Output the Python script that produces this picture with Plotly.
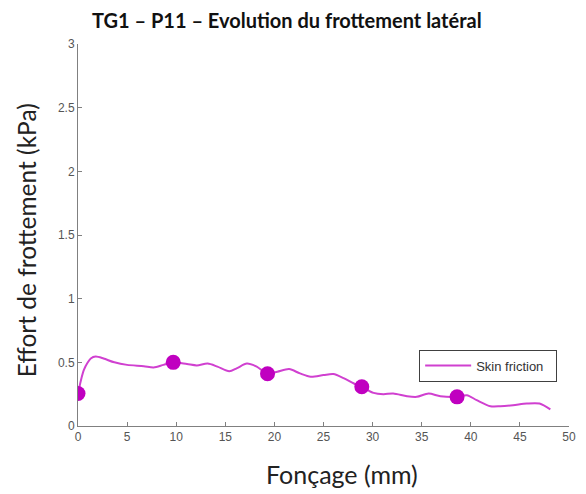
import plotly.graph_objects as go

# Skin friction curve (depth in mm, friction in kPa)
depth = [0.0, 0.3, 0.6, 1.0, 1.3, 1.8, 2.6, 3.7, 5.0, 6.7, 7.7, 8.7, 9.7,
         11.1, 12.1, 13.2, 14.2, 15.4, 16.2, 17.2, 18.2, 19.3,
         20.3, 21.5, 22.6, 23.7, 25.0, 26.0, 27.1, 28.1, 28.9,
         30.1, 31.1, 32.1, 33.5, 34.5, 35.7, 36.9, 38.6,
         39.6, 40.6, 42.0, 43.0, 44.3, 45.7, 47.0, 48.1]
friction = [0.255, 0.36, 0.44, 0.50, 0.53, 0.545, 0.53, 0.50, 0.48, 0.47, 0.46, 0.48, 0.50,
            0.487, 0.476, 0.49, 0.466, 0.43, 0.455, 0.49, 0.466, 0.41,
            0.426, 0.447, 0.413, 0.387, 0.40, 0.408, 0.374, 0.334, 0.308,
            0.26, 0.25, 0.255, 0.234, 0.229, 0.255, 0.234, 0.229,
            0.242, 0.203, 0.155, 0.155, 0.163, 0.176, 0.176, 0.13]

# Highlighted points
mark_depth = [0.0, 9.7, 19.3, 28.9, 38.6]
mark_friction = [0.255, 0.50, 0.41, 0.308, 0.229]

x_ticks = [0, 5, 10, 15, 20, 25, 30, 35, 40, 45, 50]
y_ticks = [0, 0.5, 1, 1.5, 2, 2.5, 3]
y_tick_text = ["0", "0.5", "1", "1.5", "2", "2.5", "3"]

# figure geometry (the page body adds an 8px offset)
W, H = 578, 486
L, R, T, B = 69.5, 561.0, 36.3, 418.5
pw, ph = R - L, B - T


def px(fx):
    return (fx - L) / pw


def py(fy):
    return (B - fy) / ph


fig = go.Figure()
fig.add_trace(go.Scatter(
    x=depth, y=friction, mode="lines", name="Skin friction",
    line=dict(color="#D040D0", width=2, shape="spline", smoothing=0.8),
))
fig.add_trace(go.Scatter(
    x=mark_depth, y=mark_friction, mode="markers", showlegend=False,
    marker=dict(color="#C000C0", size=15),
))

axis_common = dict(
    showgrid=False, zeroline=False, showline=True, linecolor="#808080",
    linewidth=1, ticks="inside", ticklen=4, tickcolor="#808080",
    tickfont=dict(family="Liberation Sans, Arial", size=12, color="#555555"),
    mirror=False, automargin=False,
)
fig.update_xaxes(range=[0, 50], tickvals=x_ticks, **axis_common)
fig.update_yaxes(range=[0, 3], tickvals=y_ticks, ticktext=y_tick_text, **axis_common)

fig.update_layout(
    width=W, height=H,
    margin=dict(l=L, r=W - R, t=T, b=H - B, autoexpand=False),
    paper_bgcolor="white", plot_bgcolor="white",
    showlegend=True,
    legend=dict(
        x=px(411), y=py(342), xanchor="left", yanchor="top",
        orientation="h", itemwidth=46,
        bordercolor="#404040", borderwidth=1, bgcolor="white",
        font=dict(family="Liberation Sans, Arial", size=13, color="#333333"),
        entrywidth=75, entrywidthmode="pixels",
    ),
    annotations=[
        dict(text="<b>TG1 – P11 – Evolution du frottement latéral</b>",
             xref="paper", yref="paper", x=px(279), y=py(12), borderpad=0,
             showarrow=False, xanchor="center", yanchor="middle",
             font=dict(family="Lato", size=20, color="#111111")),
        dict(text="Effort de frottement (kPa)", textangle=-90,
             xref="paper", yref="paper", x=px(18), y=py(233),
             showarrow=False, xanchor="center", yanchor="middle",
             font=dict(family="Lato", size=24.5, color="#222222")),
        dict(text="Fonçage (mm)",
             xref="paper", yref="paper", x=px(333.5), y=py(467),
             showarrow=False, xanchor="center", yanchor="middle",
             font=dict(family="Lato", size=25, color="#222222")),
    ],
)

fig.write_html("out.html")
